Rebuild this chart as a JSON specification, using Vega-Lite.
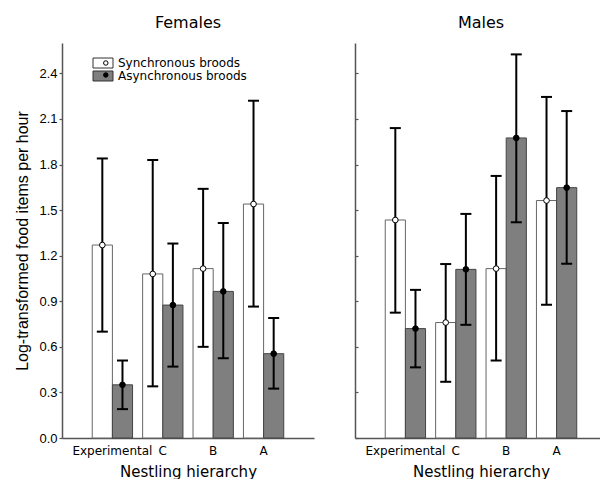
{
  "$schema": "https://vega.github.io/schema/vega-lite/v6.json",
  "padding": {"left": 14, "top": 15, "right": 0, "bottom": 0},
  "background": "white",
  "config": {
    "view": {"stroke": null},
    "axis": {
      "domainColor": "#555555", "tickColor": "#555555", "domainWidth": 1.5, "tickWidth": 1.2,
      "grid": false, "labelFont": "Liberation Sans", "labelFontSize": 13, "labelColor": "black",
      "titleFont": "DejaVu Sans", "titleFontSize": 15, "titleFontWeight": "normal", "titleColor": "black"
    },
    "title": {"font": "DejaVu Sans", "fontSize": 16, "fontWeight": "normal", "color": "black", "offset": 12}
  },
  "data": {"values": [
    {"sex": "Females", "hierarchy": "Experimental", "brood": "Synchronous broods", "mean": 1.27, "lo": 0.70, "hi": 1.84},
    {"sex": "Females", "hierarchy": "Experimental", "brood": "Asynchronous broods", "mean": 0.35, "lo": 0.19, "hi": 0.51},
    {"sex": "Females", "hierarchy": "C", "brood": "Synchronous broods", "mean": 1.08, "lo": 0.34, "hi": 1.83},
    {"sex": "Females", "hierarchy": "C", "brood": "Asynchronous broods", "mean": 0.875, "lo": 0.47, "hi": 1.28},
    {"sex": "Females", "hierarchy": "B", "brood": "Synchronous broods", "mean": 1.115, "lo": 0.60, "hi": 1.64},
    {"sex": "Females", "hierarchy": "B", "brood": "Asynchronous broods", "mean": 0.965, "lo": 0.525, "hi": 1.415},
    {"sex": "Females", "hierarchy": "A", "brood": "Synchronous broods", "mean": 1.54, "lo": 0.865, "hi": 2.22},
    {"sex": "Females", "hierarchy": "A", "brood": "Asynchronous broods", "mean": 0.555, "lo": 0.325, "hi": 0.79},
    {"sex": "Males", "hierarchy": "Experimental", "brood": "Synchronous broods", "mean": 1.435, "lo": 0.825, "hi": 2.04},
    {"sex": "Males", "hierarchy": "Experimental", "brood": "Asynchronous broods", "mean": 0.72, "lo": 0.465, "hi": 0.975},
    {"sex": "Males", "hierarchy": "C", "brood": "Synchronous broods", "mean": 0.76, "lo": 0.37, "hi": 1.145},
    {"sex": "Males", "hierarchy": "C", "brood": "Asynchronous broods", "mean": 1.11, "lo": 0.745, "hi": 1.475},
    {"sex": "Males", "hierarchy": "B", "brood": "Synchronous broods", "mean": 1.115, "lo": 0.51, "hi": 1.725},
    {"sex": "Males", "hierarchy": "B", "brood": "Asynchronous broods", "mean": 1.975, "lo": 1.42, "hi": 2.525},
    {"sex": "Males", "hierarchy": "A", "brood": "Synchronous broods", "mean": 1.563, "lo": 0.877, "hi": 2.245},
    {"sex": "Males", "hierarchy": "A", "brood": "Asynchronous broods", "mean": 1.648, "lo": 1.147, "hi": 2.152}
  ]},
  "spacing": 40,
  "resolve": {"scale": {"fill": "independent", "color": "independent", "y": "independent", "x": "independent"}, "legend": {"fill": "independent", "color": "independent"}},
  "hconcat": [
    {
      "width": 252, "height": 395,
      "title": {"text": "Females"},
      "transform": [{"filter": "datum.sex === 'Females'"}],
      "encoding": {
        "x": {"field": "hierarchy", "type": "nominal", "sort": ["Experimental", "C", "B", "A"],
              "scale": {"paddingInner": 0.2, "paddingOuter": 0.6},
              "axis": {"ticks": false, "labelAngle": 0, "labelFont": "DejaVu Sans", "labelFontSize": 12, "labelPadding": 7, "titlePadding": 8},
              "title": "Nestling hierarchy"},
        "xOffset": {"field": "brood", "type": "nominal", "sort": ["Synchronous broods", "Asynchronous broods"]}
      },
      "layer": [
        {
          "mark": {"type": "bar", "strokeWidth": 1},
          "encoding": {
            "y": {"field": "mean", "type": "quantitative", "scale": {"domain": [0, 2.6], "nice": false},
                  "axis": {"values": [0, 0.3, 0.6, 0.9, 1.2, 1.5, 1.8, 2.1, 2.4], "format": ".1f", "tickSize": 3, "labelPadding": 2,
                           "titleFont": "Liberation Sans", "titleFontSize": 16, "titlePadding": 8},
                  "title": "Log-transformed food items per hour"},
            "fill": {"field": "brood", "type": "nominal", "sort": ["Synchronous broods", "Asynchronous broods"],
                     "scale": {"domain": ["Synchronous broods", "Asynchronous broods"], "range": ["#ffffff", "#7f7f7f"]},
                     "legend": {"orient": "none", "legendX": 35, "legendY": 14, "title": null,
                                "symbolType": "M-2,-1H2V1H-2Z", "symbolSize": 100, "symbolStrokeColor": "#333333",
                                "symbolStrokeWidth": 1, "symbolOpacity": 1, "labelFont": "DejaVu Sans", "labelFontSize": 12,
                                "labelColor": "black", "rowPadding": -1, "labelOffset": 9}},
            "stroke": {"field": "brood", "type": "nominal", "sort": ["Synchronous broods", "Asynchronous broods"],
                       "scale": {"domain": ["Synchronous broods", "Asynchronous broods"], "range": ["#666666", "#444444"]}, "legend": null}
          }
        },
        {
          "mark": {"type": "rule", "strokeWidth": 2, "color": "black"},
          "encoding": {"y": {"field": "lo", "type": "quantitative"}, "y2": {"field": "hi"}}
        },
        {
          "mark": {"type": "tick", "size": 11, "thickness": 2, "color": "black", "opacity": 1},
          "encoding": {"y": {"field": "hi", "type": "quantitative"}}
        },
        {
          "mark": {"type": "tick", "size": 11, "thickness": 2, "color": "black", "opacity": 1},
          "encoding": {"y": {"field": "lo", "type": "quantitative"}}
        },
        {
          "mark": {"type": "point", "filled": true, "size": 32, "stroke": "black", "strokeWidth": 1, "opacity": 1},
          "encoding": {
            "y": {"field": "mean", "type": "quantitative"},
            "color": {"field": "brood", "type": "nominal",
                      "scale": {"domain": ["Asynchronous broods", "Synchronous broods"], "range": ["#000000", "#ffffff"]},
                      "legend": {"orient": "none", "legendX": 37.8, "legendY": 14, "title": null,
                                 "values": ["Synchronous broods", "Asynchronous broods"],
                                 "symbolType": "circle", "symbolSize": 20, "symbolStrokeColor": "black", "symbolStrokeWidth": 1,
                                 "symbolOpacity": 1, "labelFont": "DejaVu Sans", "labelFontSize": 12, "labelOpacity": 0,
                                 "labelExpr": "''", "rowPadding": -1, "labelOffset": 9}}
          }
        }
      ]
    },
    {
      "width": 252, "height": 395,
      "title": {"text": "Males"},
      "transform": [{"filter": "datum.sex === 'Males'"}],
      "encoding": {
        "x": {"field": "hierarchy", "type": "nominal", "sort": ["Experimental", "C", "B", "A"],
              "scale": {"paddingInner": 0.2, "paddingOuter": 0.6},
              "axis": {"ticks": false, "labelAngle": 0, "labelFont": "DejaVu Sans", "labelFontSize": 12, "labelPadding": 7, "titlePadding": 8},
              "title": "Nestling hierarchy"},
        "xOffset": {"field": "brood", "type": "nominal", "sort": ["Synchronous broods", "Asynchronous broods"]}
      },
      "layer": [
        {
          "mark": {"type": "bar", "strokeWidth": 1},
          "encoding": {
            "y": {"field": "mean", "type": "quantitative", "scale": {"domain": [0, 2.6], "nice": false},
                  "axis": {"values": [0, 0.3, 0.6, 0.9, 1.2, 1.5, 1.8, 2.1, 2.4], "labels": false, "tickSize": -3, "title": null}},
            "fill": {"field": "brood", "type": "nominal", "sort": ["Synchronous broods", "Asynchronous broods"],
                     "scale": {"domain": ["Synchronous broods", "Asynchronous broods"], "range": ["#ffffff", "#7f7f7f"]},
                     "legend": null},
            "stroke": {"field": "brood", "type": "nominal", "sort": ["Synchronous broods", "Asynchronous broods"],
                       "scale": {"domain": ["Synchronous broods", "Asynchronous broods"], "range": ["#666666", "#444444"]}, "legend": null}
          }
        },
        {
          "mark": {"type": "rule", "strokeWidth": 2, "color": "black"},
          "encoding": {"y": {"field": "lo", "type": "quantitative"}, "y2": {"field": "hi"}}
        },
        {
          "mark": {"type": "tick", "size": 11, "thickness": 2, "color": "black", "opacity": 1},
          "encoding": {"y": {"field": "hi", "type": "quantitative"}}
        },
        {
          "mark": {"type": "tick", "size": 11, "thickness": 2, "color": "black", "opacity": 1},
          "encoding": {"y": {"field": "lo", "type": "quantitative"}}
        },
        {
          "mark": {"type": "point", "filled": true, "size": 32, "stroke": "black", "strokeWidth": 1, "opacity": 1},
          "encoding": {
            "y": {"field": "mean", "type": "quantitative"},
            "color": {"field": "brood", "type": "nominal",
                      "scale": {"domain": ["Asynchronous broods", "Synchronous broods"], "range": ["#000000", "#ffffff"]},
                      "legend": null}
          }
        }
      ]
    }
  ]
}
